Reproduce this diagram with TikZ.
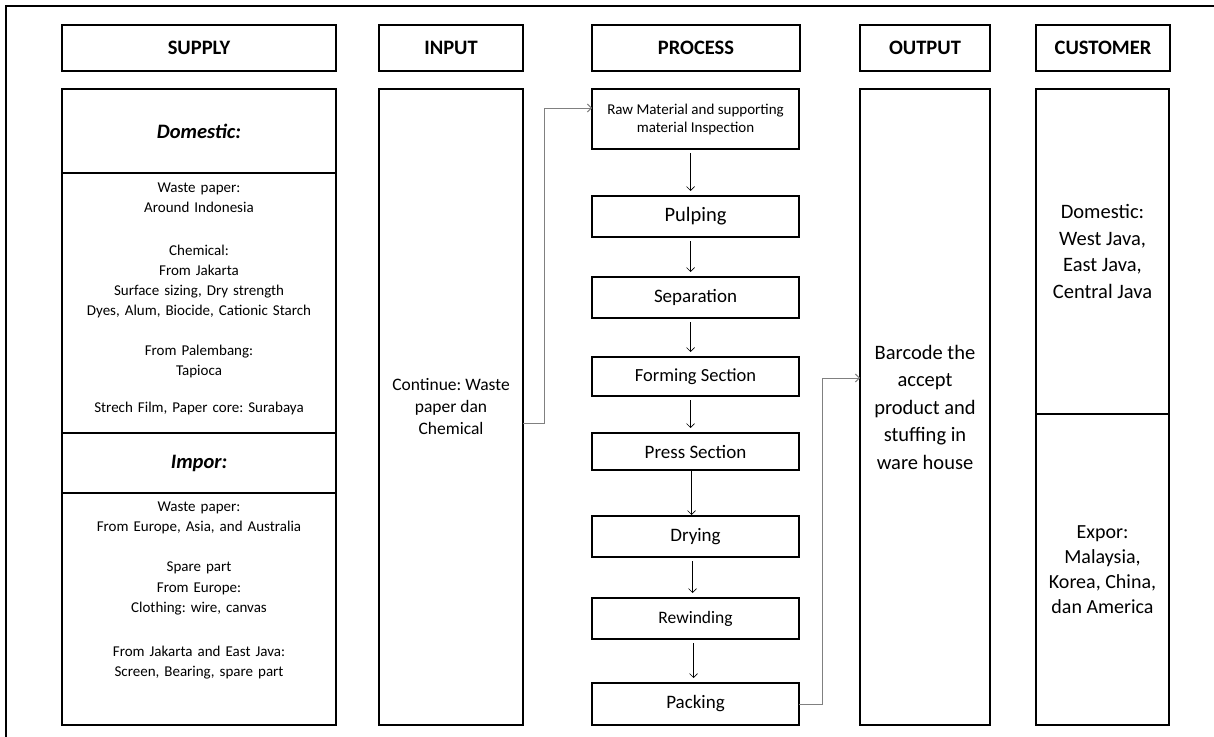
\documentclass[tikz,border=0pt]{standalone}
\usepackage{fontspec}
\setmainfont{Carlito}
\usetikzlibrary{arrows.meta,calc}
\frenchspacing
\begin{document}
\begin{tikzpicture}[x=1pt,y=-1pt,
  box/.style={draw,line width=2.2pt,inner sep=0pt,outer sep=0pt,align=center},
  hdr/.style={box,minimum height=46pt,font=\fontsize{20.5}{24}\selectfont\bfseries},
  sub/.style={box,font=\fontsize{20.5}{24}\selectfont\bfseries\itshape},
  stxt/.style={inner sep=0pt,outer sep=0pt,text width=270pt,align=center,anchor=base},
  pbox/.style={box,minimum width=207pt},
  parr/.style={-{Straight Barb[length=4pt,width=8pt]},line width=0.7pt,shorten <=4pt,shorten >=5pt},
  conn/.style={-{Straight Barb[length=4pt,width=8pt]},line width=1pt,draw=black!50}]
\useasboundingbox (0,0) rectangle (1214,736);
% outer frame (only left and top edges fall inside the picture)
\draw[line width=2pt] (6,760) -- (6,6) -- (1240,6);

% headers
\node[hdr,minimum width=274pt] (hsup) at (199,48) {SUPPLY};
\node[hdr,minimum width=144pt] (hin) at (451,48) {INPUT};
\node[hdr,minimum width=208pt] (hpro) at (696,48) {PROCESS};
\node[hdr,minimum width=130pt] (hout) at (925,48) {OUTPUT};
\node[hdr,minimum width=134pt] (hcus) at (1103,48) {CUSTOMER};

% supply column
\node[sub,minimum width=274pt,minimum height=84pt] (dom) at (199,131) {Domestic:};
\node[box,minimum width=274pt,minimum height=260pt] (domb) at (199,303) {};
\node[sub,minimum width=274pt,minimum height=60pt] (imp) at (199,463) {Impor:};
\node[box,minimum width=274pt,minimum height=232pt] (impb) at (199,609) {};
\node[stxt,font=\fontsize{15}{20}\selectfont] (domt) at (199,192)
 {Waste paper:\\Around Indonesia\\[23pt]Chemical:\\From Jakarta\\Surface sizing, Dry strength\\Dyes, Alum, Biocide, Cationic Starch\\[20pt]From Palembang:\\Tapioca\\[17pt]Strech Film, Paper core: Surabaya};
\node[stxt,font=\fontsize{15}{20.5}\selectfont] (impt) at (199,511)
 {Waste paper:\\From Europe, Asia, and Australia\\[19.5pt]Spare part\\From Europe:\\Clothing: wire, canvas\\[23pt]From Jakarta and East Java:\\Screen, Bearing, spare part};

% input column
\node[box,minimum width=144pt,minimum height=636pt,font=\fontsize{17.5}{22}\selectfont] (inb) at (451,407)
 {Continue: Waste\\paper dan\\Chemical};

% process column
\node[pbox,minimum height=60pt,font=\fontsize{15}{18}\selectfont] (raw) at (695.5,119) {Raw Material and supporting\\material Inspection};
\node[pbox,minimum height=41pt,font=\fontsize{20.5}{24}\selectfont] (pulp) at (695.5,216.5) {Pulping};
\node[pbox,minimum height=41pt,font=\fontsize{19}{23}\selectfont] (sep) at (695.5,297.5) {Separation};
\node[pbox,minimum height=39pt,font=\fontsize{18.5}{22}\selectfont] (form) at (695.5,376.5) {Forming Section};
\node[pbox,minimum height=37pt,font=\fontsize{19}{23}\selectfont] (press) at (695.5,451.5) {Press Section};
\node[pbox,minimum height=41pt,font=\fontsize{19}{23}\selectfont] (dry) at (695.5,536.5) {Drying};
\node[pbox,minimum height=41pt,font=\fontsize{17.5}{21}\selectfont] (rew) at (695.5,618.5) {Rewinding};
\node[pbox,minimum height=42pt,font=\fontsize{19}{23}\selectfont] (pack) at (695.5,704) {Packing};

\draw[parr] ([xshift=-5pt]raw.south) -- ([xshift=-5pt]pulp.north);
\draw[parr] ([xshift=-5pt]pulp.south) -- ([xshift=-5pt]sep.north);
\draw[parr] ([xshift=-5pt]sep.south) -- ([xshift=-5pt]form.north);
\draw[parr] ([xshift=-5pt]form.south) -- ([xshift=-5pt]press.north);
\draw[parr,shorten <=0pt,shorten >=1pt] ([xshift=-4pt]press.south) -- ([xshift=-4pt]dry.north);
\draw[parr] ([xshift=-3pt]dry.south) -- ([xshift=-3pt]rew.north);
\draw[parr] ([xshift=-2pt]rew.south) -- ([xshift=-2pt]pack.north);

% output column
\node[box,minimum width=130pt,minimum height=636pt,font=\fontsize{20.5}{27.5}\selectfont] (outb) at (925,407)
 {Barcode the\\accept\\product and\\stuffing in\\ware house};

% customer column
\node[box,minimum width=133pt,minimum height=325pt,font=\fontsize{20.5}{26.7}\selectfont] (cdom) at (1102.5,251.5)
 {Domestic:\\West Java,\\East Java,\\Central Java};
\node[box,minimum width=133pt,minimum height=311pt,font=\fontsize{20}{25}\selectfont] (cexp) at (1102.5,569.5)
 {Expor:\\Malaysia,\\Korea, China,\\dan America};

% connectors
\coordinate (inout) at (523,423);
\coordinate (inbend) at (544,108);
\draw[conn] (inout) -| (inbend) -- (raw.west |- inbend);
\coordinate (outbend) at (822,378);
\draw[conn] (pack.east) -| (outbend) -- (outb.west |- outbend);
\end{tikzpicture}
\end{document}
